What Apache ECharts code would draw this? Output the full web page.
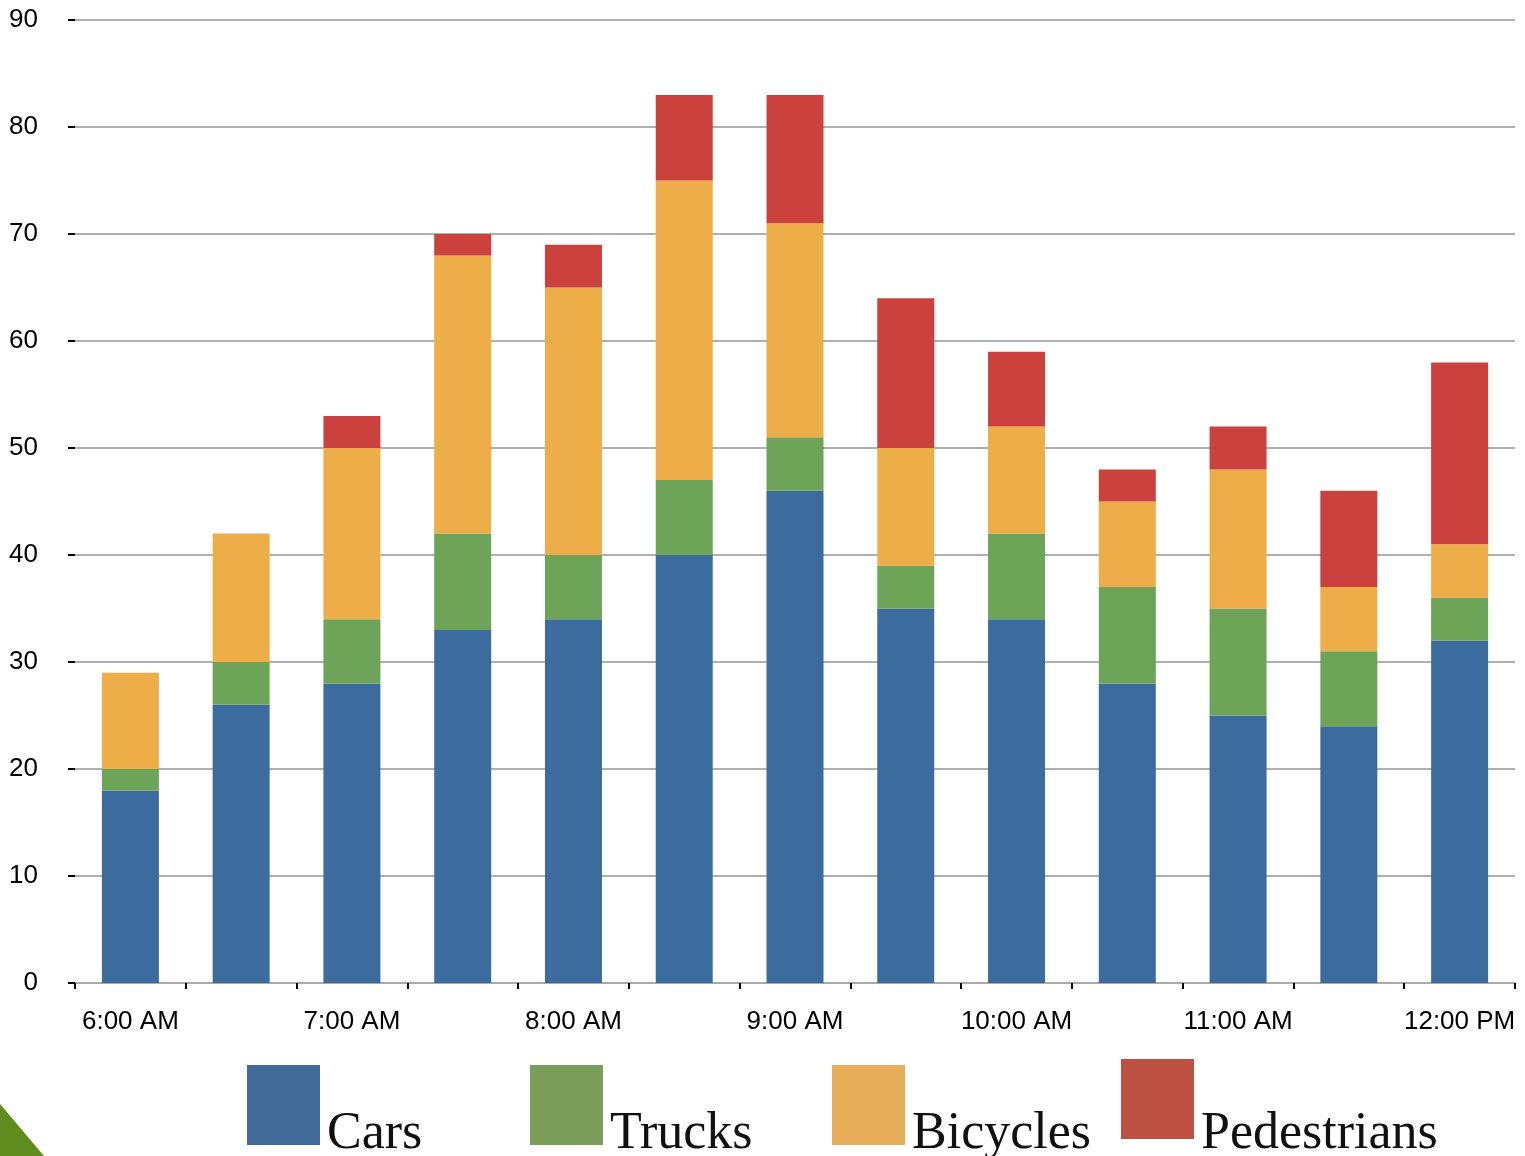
<!DOCTYPE html>
<html>
<head>
<meta charset="utf-8">
<script src="https://cdn.jsdelivr.net/npm/echarts@6/dist/echarts.min.js"></script>
<style>html,body{margin:0;padding:0;background:#fff}#c{width:1525px;height:1156px}</style>
</head>
<body>
<div id="c"></div>
<script>
const categories = ['6:00 AM','6:30 AM','7:00 AM','7:30 AM','8:00 AM','8:30 AM','9:00 AM','9:30 AM','10:00 AM','10:30 AM','11:00 AM','11:30 AM','12:00 PM'];
const cars        = [18, 26, 28, 33, 34, 40, 46, 35, 34, 28, 25, 24, 32];
const trucks      = [2, 4, 6, 9, 6, 7, 5, 4, 8, 9, 10, 7, 4];
const bicycles    = [9, 12, 16, 26, 25, 28, 20, 11, 10, 8, 13, 6, 5];
const pedestrians = [0, 0, 3, 2, 4, 8, 12, 14, 7, 3, 4, 9, 17];
const seriesNames = ['Cars','Trucks','Bicycles','Pedestrians'];
const barColors = ['#3C6C9E','#6EA457','#EDAE4A','#CB413E'];
const legendColors = ['#416A99','#7A9E5A','#E8AD58','#BC5144'];
const legendLeft = [242, 525, 827, 1116];
const legendTop = [1060, 1060, 1060, 1054];
const legendTextPad = [58, 58, 58, 70];

const chart = echarts.init(document.getElementById('c'));
const dataSets = [cars, trucks, bicycles, pedestrians];
const legends = seriesNames.map((n, i) => ({
  left: legendLeft[i], top: legendTop[i],
  orient: 'horizontal', icon: 'rect',
  itemWidth: 73, itemHeight: 80, itemGap: 0,
  selectedMode: false,
  data: [{name: n, itemStyle: {color: legendColors[i]}}],
  formatter: '{t|{name}}',
  textStyle: {
    fontFamily: 'Liberation Serif', fontSize: 52, color: '#111',
    rich: {t: {fontFamily: 'Liberation Serif', fontSize: 52, color: '#111', padding: [legendTextPad[i], 0, 0, 2]}}
  }
}));
chart.setOption({
  animation: false,
  grid: {left: 75, right: 10, top: 20, bottom: 173, containLabel: false},
  legend: legends,
  xAxis: {
    type: 'category', data: categories,
    axisLine: {lineStyle: {color: '#aaaaaa', width: 2}},
    axisTick: {show: true, interval: 0, length: 6, lineStyle: {color: '#000', width: 2}},
    axisLabel: {interval: 1, margin: 26, fontFamily: 'Liberation Sans', fontSize: 26, color: '#000'}
  },
  yAxis: {
    type: 'value', min: 0, max: 90, interval: 10,
    axisLine: {show: false},
    axisTick: {show: true, length: 7, lineStyle: {color: '#000', width: 2}},
    axisLabel: {margin: 37, fontFamily: 'Liberation Sans', fontSize: 26, color: '#000'},
    splitLine: {lineStyle: {color: '#b0b0b0', width: 2}}
  },
  series: seriesNames.map((n, i) => ({
    name: n, type: 'bar', stack: 'total', barWidth: 57,
    itemStyle: {color: barColors[i]},
    data: dataSets[i]
  })),
  graphic: [{
    type: 'polygon', silent: true,
    shape: {points: [[0, 1104], [44, 1156], [0, 1156]]},
    style: {fill: '#5E8C1E'}
  }]
});
</script>
</body>
</html>
